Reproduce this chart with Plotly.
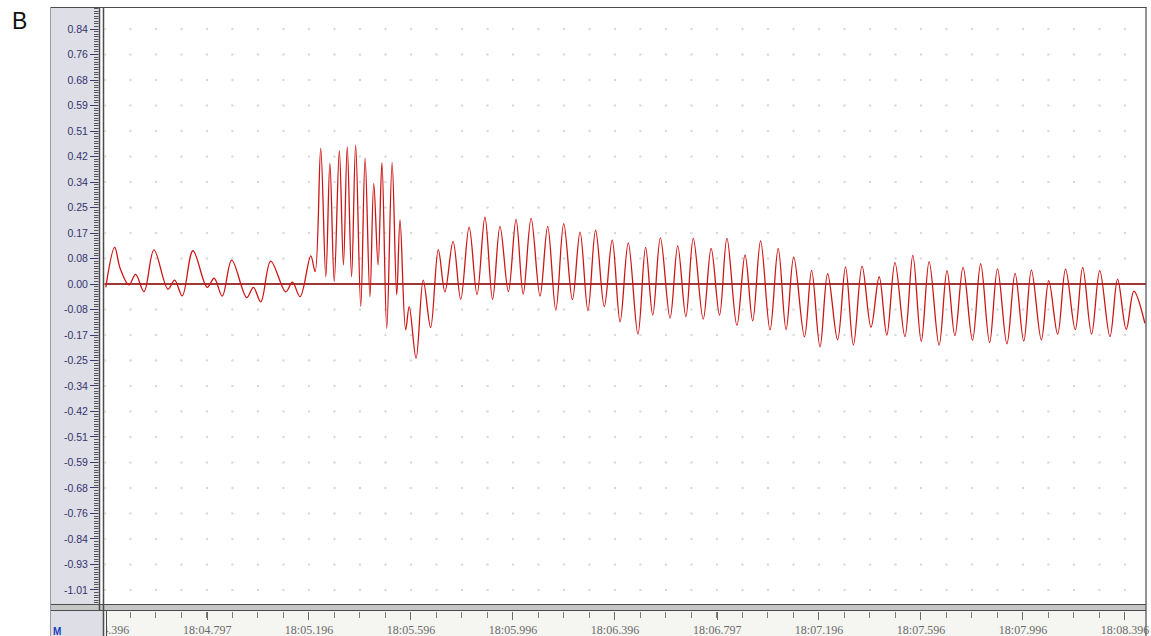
import plotly.graph_objects as go

# ---------------- data (time in s after 18:00, amplitude) ----------------
t_baseline = [4.399, 4.434, 4.455, 4.490, 4.516, 4.549, 4.588, 4.643, 4.669, 4.699, 4.741,
              4.797, 4.824, 4.856, 4.893, 4.952, 4.978, 5.007, 5.046, 5.105, 5.131, 5.161]
v_baseline = [-0.011, 0.121, 0.053, -0.003, 0.032, -0.025, 0.113, -0.017, 0.013, -0.039, 0.110,
              -0.011, 0.019, -0.040, 0.079, -0.045, -0.011, -0.059, 0.076, -0.026, 0.006, -0.042]

t_burst = [5.203, 5.220, 5.242, 5.262, 5.278, 5.295, 5.315, 5.331, 5.346, 5.363, 5.379, 5.399,
           5.416, 5.435, 5.450, 5.467, 5.482, 5.501, 5.522, 5.540, 5.553, 5.575, 5.589, 5.616,
           5.644, 5.673, 5.703, 5.729]
v_burst = [0.093, 0.041, 0.449, 0.024, 0.400, 0.008, 0.441, 0.063, 0.454, 0.024, 0.460, -0.075,
           0.416, -0.042, 0.333, 0.063, 0.402, -0.147, 0.402, -0.036, 0.212, -0.152, -0.075, -0.246,
           0.013, -0.144, 0.114, -0.026]

t_osc = [5.761, 5.791, 5.824, 5.855, 5.886, 5.916, 5.945, 5.978, 6.008, 6.036,
         6.067, 6.102, 6.132, 6.164, 6.195, 6.229, 6.259, 6.290, 6.320, 6.354,
         6.385, 6.416, 6.448, 6.486, 6.516, 6.544, 6.574, 6.612, 6.642, 6.674,
         6.703, 6.742, 6.773, 6.806, 6.835, 6.874, 6.906, 6.936, 6.967, 7.004,
         7.036, 7.067, 7.097, 7.139, 7.167, 7.200, 7.230, 7.269, 7.300, 7.331,
         7.365, 7.400, 7.432, 7.462, 7.494, 7.533, 7.564, 7.597, 7.628, 7.667,
         7.698, 7.729, 7.761, 7.798, 7.830, 7.865, 7.896, 7.933, 7.965, 7.999,
         8.029, 8.068, 8.097, 8.132, 8.163, 8.201, 8.230, 8.265, 8.297, 8.337,
         8.367, 8.401, 8.431, 8.474]
v_osc = [0.141, -0.051, 0.188, -0.035, 0.221, -0.051, 0.191, -0.025, 0.214, -0.033,
         0.217, -0.040, 0.191, -0.086, 0.200, -0.052, 0.172, -0.088, 0.178, -0.075,
         0.145, -0.125, 0.136, -0.166, 0.121, -0.103, 0.153, -0.113, 0.126, -0.108,
         0.151, -0.116, 0.118, -0.103, 0.151, -0.137, 0.096, -0.122, 0.143, -0.152,
         0.118, -0.151, 0.089, -0.175, 0.045, -0.208, 0.034, -0.185, 0.057, -0.202,
         0.059, -0.143, 0.024, -0.169, 0.071, -0.174, 0.095, -0.190, 0.074, -0.202,
         0.044, -0.171, 0.055, -0.186, 0.067, -0.194, 0.050, -0.198, 0.035, -0.189,
         0.046, -0.185, 0.011, -0.166, 0.049, -0.151, 0.055, -0.166, 0.044, -0.174,
         0.016, -0.150, -0.024, -0.130]

y_step = 0.0844
y_tick_labels = ["0.84", "0.76", "0.68", "0.59", "0.51", "0.42", "0.34", "0.25", "0.17", "0.08",
                 "0.00", "-0.08", "-0.17", "-0.25", "-0.34", "-0.42", "-0.51", "-0.59", "-0.68",
                 "-0.76", "-0.84", "-0.93", "-1.01"]
y_tick_vals = [y_step * k for k in range(10, -13, -1)]

x_tick_vals = [4.396, 4.797, 5.196, 5.596, 5.996, 6.396, 6.797, 7.196, 7.596, 7.996, 8.396]
x_tick_labels = ["18:04.396", "18:04.797", "18:05.196", "18:05.596", "18:05.996", "18:06.396",
                 "18:06.797", "18:07.196", "18:07.596", "18:07.996", "18:08.396"]
x_minor_step = 0.1
panel_label = "B"

# ---------------- layout geometry (pixels) ----------------
W, H = 1151, 636
L, R, T, B = 104, 1146, 8, 611
PW, PH = R - L, B - T
X_RANGE = [4.3921, 8.4784]
Y_RANGE = [-1.0824, 0.9136]


def px(x):
    return (x - L) / PW


def py(y):
    return (B - y) / PH


t_all = t_baseline + t_burst + t_osc
v_all = v_baseline + v_burst + v_osc

# grid dots at every minor x tick / non-zero y tick intersection
gx, gy = [], []
k = 0
while x_tick_vals[0] + k * x_minor_step <= X_RANGE[1]:
    xv = x_tick_vals[0] + k * x_minor_step
    for yv in y_tick_vals:
        if abs(yv) > 1e-9:
            gx.append(xv)
            gy.append(yv)
    k += 1

fig = go.Figure()
fig.add_trace(go.Scatter(x=gx, y=gy, mode="markers",
                         marker=dict(size=2.5, color="#dadada"),
                         hoverinfo="skip", showlegend=False))
fig.add_trace(go.Scatter(x=t_all, y=v_all, mode="lines",
                         line=dict(color="#cc1616", width=1.3, shape="spline", smoothing=1.0),
                         hoverinfo="skip", showlegend=False))

panel = "#dedee6"
strip = "#f5f5f1"
dark = "#4c4c4c"
shapes = [
    # left grey panel
    dict(type="rect", xref="paper", yref="paper", x0=px(50), x1=px(104), y0=py(636), y1=py(7),
         fillcolor=panel, line=dict(width=0), layer="below"),
    # bottom time strip
    dict(type="rect", xref="paper", yref="paper", x0=px(104), x1=px(1146), y0=py(636), y1=py(611),
         fillcolor=strip, line=dict(width=0), layer="below"),
    # cover left part of the first time label (panel + strip edge)
    dict(type="rect", xref="paper", yref="paper", x0=px(50), x1=px(103.5), y0=py(640), y1=py(611),
         fillcolor=panel, line=dict(width=0), layer="above"),
    dict(type="rect", xref="paper", yref="paper", x0=px(103.5), x1=px(107), y0=py(640), y1=py(611),
         fillcolor=strip, line=dict(width=0), layer="above"),
    dict(type="line", xref="paper", yref="paper", x0=px(106.5), x1=px(106.5), y0=py(636), y1=py(611),
         line=dict(color=dark, width=1), layer="above"),
    # grey band between plot and strip
    dict(type="rect", xref="paper", yref="paper", x0=px(50), x1=px(1146), y0=py(611), y1=py(604),
         fillcolor="#c6c6c6", line=dict(width=0), layer="above"),
    dict(type="line", xref="paper", yref="paper", x0=px(50), x1=px(1146), y0=py(604.5), y1=py(604.5),
         line=dict(color=dark, width=1.2), layer="above"),
    dict(type="line", xref="paper", yref="paper", x0=px(50), x1=px(1146), y0=py(610.5), y1=py(610.5),
         line=dict(color=dark, width=1.2), layer="above"),
    # double vertical separator
    dict(type="rect", xref="paper", yref="paper", x0=px(98.5), x1=px(104.5), y0=py(604), y1=py(7),
         fillcolor="white", line=dict(width=0), layer="above"),
    dict(type="line", xref="paper", yref="paper", x0=px(99.5), x1=px(99.5), y0=py(611), y1=py(7),
         line=dict(color=dark, width=1.5), layer="above"),
    dict(type="line", xref="paper", yref="paper", x0=px(103.5), x1=px(103.5), y0=py(636), y1=py(7),
         line=dict(color=dark, width=1.5), layer="above"),
    # frame
    dict(type="line", xref="paper", yref="paper", x0=px(50), x1=px(1146.5), y0=py(7.5), y1=py(7.5),
         line=dict(color=dark, width=1), layer="above"),
    dict(type="line", xref="paper", yref="paper", x0=px(1146), x1=px(1146), y0=py(636), y1=py(7),
         line=dict(color=dark, width=1.2), layer="above"),
    dict(type="line", xref="paper", yref="paper", x0=px(50.5), x1=px(50.5), y0=py(636), y1=py(7),
         line=dict(color="#9a9aa4", width=1), layer="above"),
]

annotations = [
    dict(text=panel_label, xref="paper", yref="paper", x=px(19), y=py(21), xanchor="center",
         yanchor="middle", showarrow=False,
         font=dict(family="Liberation Sans, Arial, sans-serif", size=23, color="#111111")),
    dict(text="<b>M</b>", xref="paper", yref="paper", x=px(51), y=py(631), xanchor="left",
         yanchor="middle", showarrow=False,
         font=dict(family="Liberation Sans, Arial, sans-serif", size=10, color="#2040c0")),
]

fig.update_layout(
    width=W, height=H,
    margin=dict(l=L, r=W - R, t=T, b=H - B, pad=0),
    paper_bgcolor="white", plot_bgcolor="white",
    showlegend=False,
    shapes=shapes, annotations=annotations,
    xaxis=dict(range=X_RANGE, tickmode="array", tickvals=x_tick_vals, ticktext=x_tick_labels,
               ticks="outside", ticklen=8, tickwidth=1, tickcolor="#6a6a6a",
               tickfont=dict(family="Liberation Serif, Times New Roman, serif", size=12,
                             color="#6a6a6a"),
               showgrid=False, zeroline=False, showline=False, fixedrange=True,
               automargin=False,
               minor=dict(tickmode="linear", tick0=x_tick_vals[0], dtick=x_minor_step,
                          ticks="outside", ticklen=6, tickwidth=1, tickcolor="#7a7a7a",
                          showgrid=False)),
    yaxis=dict(range=Y_RANGE, tickmode="array", tickvals=y_tick_vals, ticktext=y_tick_labels,
               ticks="outside", ticklen=13, tickwidth=1, tickcolor="#3a3a6a",
               tickfont=dict(family="Liberation Sans, Arial, sans-serif", size=10.5,
                             color="#33336e"),
               showgrid=False, showline=False, fixedrange=True, automargin=False,
               zeroline=True, zerolinecolor="#a03838", zerolinewidth=1.5,
               minor=dict(tickmode="linear", tick0=0, dtick=y_step / 10,
                          ticks="outside", ticklen=9, tickwidth=1, tickcolor="#555555",
                          showgrid=False)),
)

fig.write_html(
    "out.html",
    config={"displayModeBar": False},
    post_script=(
        "document.documentElement.style.margin='0';"
        "document.documentElement.style.overflow='hidden';"
        "document.body.style.margin='0';document.body.style.padding='0';"
        "document.body.style.overflow='hidden';"
        "var gd=document.getElementById('{plot_id}');"
        "gd.style.position='fixed';gd.style.left='0px';gd.style.top='0px';"
    ),
)
